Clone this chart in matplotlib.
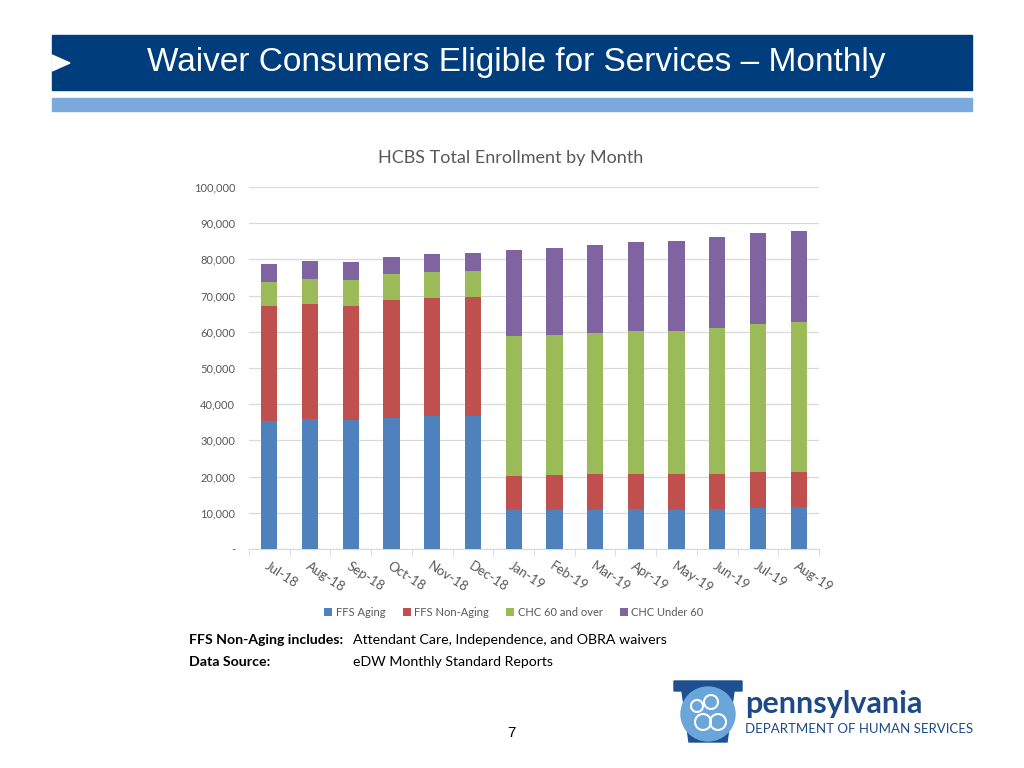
import matplotlib.pyplot as plt
from matplotlib.patches import Rectangle, Polygon, Ellipse

plt.rcParams['font.family'] = ['Lato', 'DejaVu Sans']

months = ["Jul-18", "Aug-18", "Sep-18", "Oct-18", "Nov-18", "Dec-18", "Jan-19",
          "Feb-19", "Mar-19", "Apr-19", "May-19", "Jun-19", "Jul-19", "Aug-19"]
ffs_aging = [35300, 35800, 35600, 36300, 36700, 36700, 10700,
             10700, 10800, 11000, 10800, 11000, 11400, 11500]
ffs_non_aging = [31700, 31800, 31600, 32400, 32500, 32800, 9600,
                 9700, 9800, 9800, 9800, 9800, 9800, 9900]
chc_60_over = [6800, 7100, 7200, 7200, 7400, 7300, 38600,
               38800, 39100, 39400, 39600, 40300, 40900, 41300]
chc_under_60 = [4800, 4900, 5000, 4900, 5000, 5100, 23800,
                24000, 24400, 24600, 24900, 25000, 25200, 25200]

series = [("FFS Aging", ffs_aging, "#4F81BD"),
          ("FFS Non-Aging", ffs_non_aging, "#C0504D"),
          ("CHC 60 and over", chc_60_over, "#9BBB59"),
          ("CHC Under 60", chc_under_60, "#8064A2")]

fig = plt.figure(figsize=(10.24, 7.68), dpi=100)

def fx(px):
    return px / 1024

def fy(py):
    return 1 - py / 768

# ----- header band -----
fig.patches.append(Rectangle((fx(52), fy(90)), fx(920), 55/768,
                             transform=fig.transFigure, color="#003D7C", zorder=0))
fig.patches.append(Rectangle((fx(52), fy(111)), fx(920), 13/768,
                             transform=fig.transFigure, color="#7BA9DC", zorder=0))
fig.patches.append(Polygon([(fx(52), fy(55)), (fx(70), fy(63)), (fx(52), fy(71))],
                           closed=True, transform=fig.transFigure, color="white", zorder=1))
fig.text(fx(147), fy(62), "Waiver Consumers Eligible for Services \u2013 Monthly",
         color="white", fontsize=24, va="center", ha="left", family=["Liberation Sans"])

# ----- chart -----
ax = fig.add_axes([fx(249), fy(549), fx(570), 362/768])
x = range(len(months))
bottom = [0] * len(months)
for name, vals, col in series:
    ax.bar(x, vals, width=0.4, bottom=bottom, color=col, label=name, zorder=3)
    bottom = [b + v for b, v in zip(bottom, vals)]

ax.set_xlim(-0.5, len(months) - 0.5)
ax.set_ylim(0, 100000)
ax.set_yticks(range(0, 100001, 10000))
ax.set_yticklabels(["-"] + [f"{v:,}" for v in range(10000, 100001, 10000)])
ax.yaxis.grid(True, color="#D9D9D9", linewidth=0.9, zorder=0)
for s in ["top", "right", "left"]:
    ax.spines[s].set_visible(False)
ax.spines["bottom"].set_color("#D9D9D9")
ax.tick_params(axis="y", length=0, pad=10, labelsize=8, labelcolor="#595959")
ax.set_xticks(list(x))
ax.set_xticklabels(months, rotation=-33, ha="left", va="top", rotation_mode="anchor",
                   fontsize=9.5, color="#595959")
ax.tick_params(axis="x", length=0, pad=8)
ax.set_xticks([i - 0.5 for i in range(len(months) + 1)], minor=True)
ax.tick_params(axis="x", which="minor", length=5, color="#D9D9D9")

fig.text(fx(511), fy(158), "HCBS Total Enrollment by Month", ha="center", va="center",
         fontsize=13, color="#595959")

fig.legend(loc="center", bbox_to_anchor=(fx(514), fy(612)), ncol=4, frameon=False,
           fontsize=8, handlelength=0.7, handleheight=0.7, handletextpad=0.3,
           columnspacing=1.6, labelcolor="#595959")

# ----- notes -----
fig.text(fx(189), fy(640), "FFS Non-Aging includes:", fontsize=10.2, weight="bold", va="center")
fig.text(fx(353), fy(640), "Attendant Care, Independence, and OBRA waivers", fontsize=10.2, va="center")
fig.text(fx(189), fy(662), "Data Source:", fontsize=10.2, weight="bold", va="center")
fig.text(fx(353), fy(662), "eDW Monthly Standard Reports", fontsize=10.2, va="center")

fig.text(fx(511), fy(733), "7", fontsize=11, ha="center", va="center",
         family=["Liberation Sans"])

# ----- logo -----
fig.patches.append(Polygon([(fx(674), fy(681)), (fx(742), fy(681)), (fx(742), fy(691)),
                            (fx(734), fy(691)), (fx(727), fy(742)), (fx(689), fy(742)),
                            (fx(682), fy(691)), (fx(674), fy(691))],
                           closed=True, transform=fig.transFigure, color="#1D4F91", zorder=1))
fig.patches.append(Ellipse((fx(708), fy(714)), fx(54), 54/768, transform=fig.transFigure,
                           color="#6AA6D9", zorder=2))
for cx, cy, r in [(697, 706, 6), (711, 702, 7), (703, 722, 8), (718, 722, 8)]:
    fig.patches.append(Ellipse((fx(cx), fy(cy)), fx(2 * r), 2 * r / 768,
                               transform=fig.transFigure, fill=False, edgecolor="white",
                               linewidth=1.5, zorder=3))
fig.text(fx(745), fy(704), "pennsylvania", fontsize=22, weight="bold", color="#1D4A86",
         va="center", ha="left")
fig.text(fx(745), fy(729), "DEPARTMENT OF HUMAN SERVICES", fontsize=9.5, color="#1D4A86",
         va="center", ha="left")

fig.savefig("out.png", dpi=100)
